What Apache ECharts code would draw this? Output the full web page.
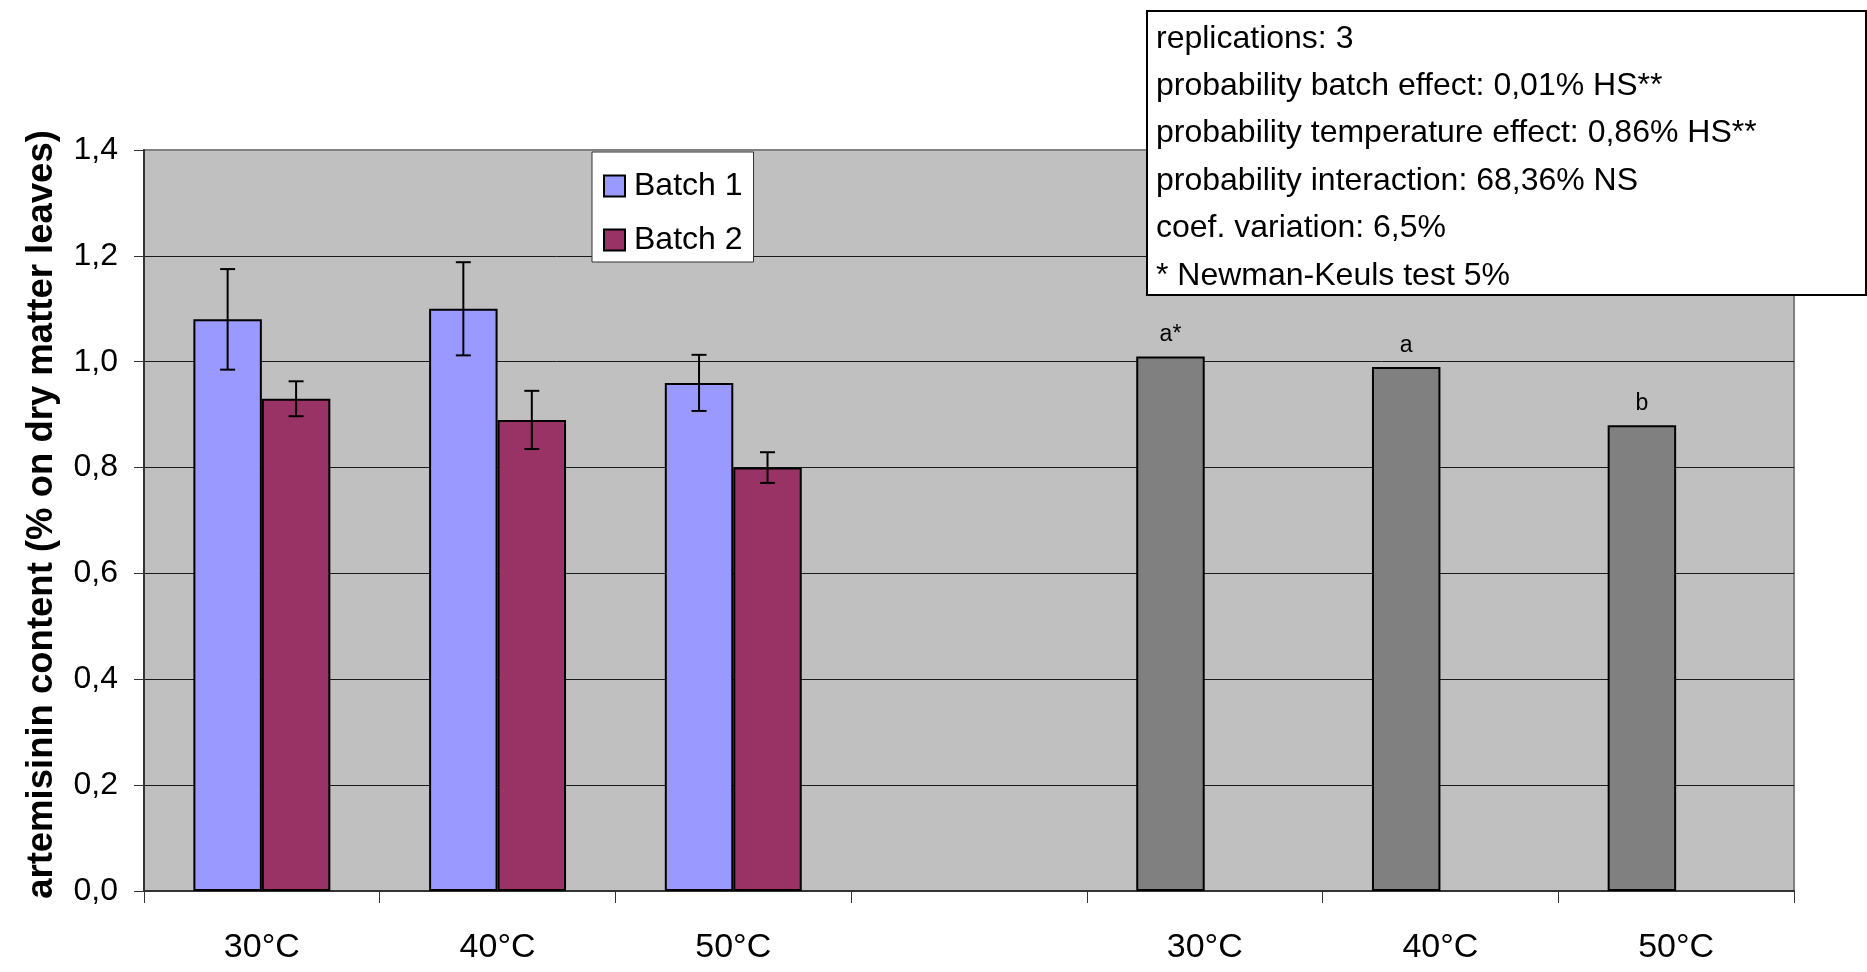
<!DOCTYPE html>
<html>
<head>
<meta charset="utf-8">
<title>Artemisinin content by drying temperature</title>
<script src="https://cdn.jsdelivr.net/npm/echarts@6/dist/echarts.min.js"></script>
<style>
  html, body { margin: 0; padding: 0; background: #ffffff; }
  #chart { width: 1867px; height: 972px; }
</style>
</head>
<body>
<div id="chart"></div>
<script>
// Categories: three temperatures per batch, an empty spacer, then the means
const categories = ['30°C', '40°C', '50°C', '', '30°C', '40°C', '50°C'];

// Artemisinin content (% on dry matter leaves)
const batch1 = [1.08, 1.10, 0.96, null, null, null, null];
const batch2 = [0.93, 0.89, 0.80, null, null, null, null];
const batchMeans = [null, null, null, null, 1.01, 0.99, 0.88];

// Standard deviations shown as error bars
const batch1Err = [0.095, 0.088, 0.053];
const batch2Err = [0.033, 0.055, 0.029];

// Newman-Keuls grouping letters for the means
const meanLetters = ['', '', '', '', 'a*', 'a', 'b'];

// ANOVA summary
const statsLines = [
  'replications: 3',
  'probability batch effect: 0,01% HS**',
  'probability temperature effect: 0,86% HS**',
  'probability interaction: 68,36% NS',
  'coef. variation: 6,5%',
  '* Newman-Keuls test 5%'
];

const FONT = '"Liberation Sans", Arial, sans-serif';
const CATEGORY_GAP = 0.419;

// error bar rows: [category index, low, high, slot (0 = Batch 1, 1 = Batch 2)]
const errorRows = [];
batch1.forEach((v, i) => {
  if (v != null && batch1Err[i] != null) errorRows.push([i, v - batch1Err[i], v + batch1Err[i], 0]);
});
batch2.forEach((v, i) => {
  if (v != null && batch2Err[i] != null) errorRows.push([i, v - batch2Err[i], v + batch2Err[i], 1]);
});

const chart = echarts.init(document.getElementById('chart'), null, { renderer: 'canvas' });

const barBorder = { borderColor: '#000000', borderWidth: 2 };

const option = {
  animation: false,
  backgroundColor: '#ffffff',
  textStyle: { fontFamily: FONT },
  grid: {
    left: 144, right: 73, top: 150, bottom: 81,
    show: true,
    backgroundColor: '#C0C0C0',
    borderColor: '#808080',
    borderWidth: 2
  },
  legend: {
    data: ['Batch 1', 'Batch 2'],
    orient: 'vertical',
    left: 592, top: 152,
    icon: 'rect',
    itemWidth: 21, itemHeight: 21,
    itemGap: 22,
    padding: [18, 11, 6, 11],
    backgroundColor: '#ffffff',
    borderColor: '#333333',
    borderWidth: 1,
    borderRadius: 0,
    textStyle: { fontFamily: FONT, fontSize: 32, color: '#000', lineHeight: 30, padding: [0, 0, 0, 4] }
  },
  xAxis: {
    type: 'category',
    data: categories,
    axisLine: { show: true, lineStyle: { color: '#333333', width: 2 } },
    axisTick: { show: true, length: 12, lineStyle: { color: '#333333', width: 1 } },
    axisLabel: { fontFamily: FONT, fontSize: 34, color: '#000', margin: 40, interval: 0 },
    splitLine: { show: false }
  },
  yAxis: {
    type: 'value',
    min: 0, max: 1.4, interval: 0.2,
    name: 'artemisinin content (% on dry matter leaves)',
    nameLocation: 'middle',
    nameRotate: 90,
    nameGap: 84,
    nameTextStyle: { fontFamily: FONT, fontSize: 36.5, fontWeight: 'bold', color: '#000', padding: [0, 0, 0, 12] },
    axisLine: { show: true, lineStyle: { color: '#333333', width: 2 } },
    axisTick: { show: true, length: 10, lineStyle: { color: '#333333', width: 1 } },
    axisLabel: {
      fontFamily: FONT, fontSize: 32, color: '#000', margin: 26,
      formatter: v => v.toFixed(1).replace('.', ',')
    },
    splitLine: { show: true, showMinLine: false, showMaxLine: false, lineStyle: { color: '#1a1a1a', width: 1 } }
  },
  series: [
    {
      name: 'Batch 1', type: 'bar', stack: 'first',
      data: batch1,
      barGap: '0%', barCategoryGap: (CATEGORY_GAP * 100) + '%',
      itemStyle: Object.assign({ color: '#9999FF' }, barBorder)
    },
    {
      name: 'Batch 2', type: 'bar', stack: 'second',
      data: batch2,
      barGap: '0%', barCategoryGap: (CATEGORY_GAP * 100) + '%',
      itemStyle: Object.assign({ color: '#993366' }, barBorder)
    },
    {
      name: 'Mean', type: 'bar', stack: 'first',
      data: batchMeans,
      itemStyle: Object.assign({ color: '#808080' }, barBorder),
      label: {
        show: true, position: 'top', distance: 10,
        fontFamily: FONT, fontSize: 23, color: '#000',
        formatter: p => meanLetters[p.dataIndex]
      }
    },
    {
      name: 'error', type: 'custom',
      data: errorRows,
      z: 10,
      renderItem: function (params, api) {
        const idx = api.value(0);
        const band = api.size([1, 0])[0];
        const barW = band * (1 - CATEGORY_GAP) / 2;
        const cx = api.coord([idx, 0])[0] + (api.value(3) === 0 ? -barW / 2 : barW / 2);
        const yLow = api.coord([idx, api.value(1)])[1];
        const yHigh = api.coord([idx, api.value(2)])[1];
        const cap = 7.5;
        const style = { stroke: '#000000', lineWidth: 2 };
        return {
          type: 'group',
          children: [
            { type: 'line', shape: { x1: cx, y1: yHigh, x2: cx, y2: yLow }, style: style },
            { type: 'line', shape: { x1: cx - cap, y1: yHigh, x2: cx + cap, y2: yHigh }, style: style },
            { type: 'line', shape: { x1: cx - cap, y1: yLow, x2: cx + cap, y2: yLow }, style: style }
          ]
        };
      }
    }
  ],
  graphic: [
    {
      type: 'group',
      left: 1146, top: 10,
      z: 100,
      children: [
        {
          type: 'rect',
          z: 100,
          shape: { x: 0, y: 0, width: 719, height: 284 },
          style: { fill: '#ffffff', stroke: '#000000', lineWidth: 2 }
        },
        {
          type: 'text',
          z: 101,
          x: 9, y: 4,
          style: {
            text: statsLines.join('\n'),
            font: '32px ' + FONT,
            fill: '#000000',
            lineHeight: 47.4,
            verticalAlign: 'top',
            align: 'left'
          }
        }
      ]
    }
  ]
};

chart.setOption(option);
</script>
</body>
</html>
